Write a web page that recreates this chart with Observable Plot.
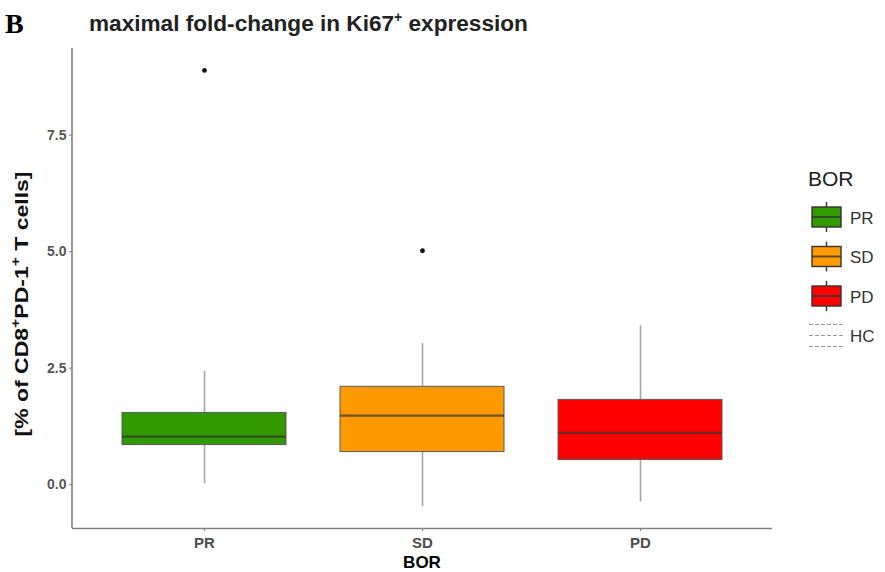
<!DOCTYPE html>
<html>
<head>
<meta charset="utf-8">
<script src="https://cdn.jsdelivr.net/npm/d3@7"></script>
<script src="https://cdn.jsdelivr.net/npm/@observablehq/plot@0.6"></script>
<style>
  html, body { margin: 0; padding: 0; background: #fff; }
  #wrap { position: relative; width: 885px; height: 572px; overflow: hidden; font-family: "Liberation Sans", Arial, sans-serif; }
  #wrap > svg { position: absolute; left: 0; top: 0; }
  #overlay { position: absolute; left: 0; top: 0; pointer-events: none; }
</style>
</head>
<body>
<div id="wrap"></div>
<script>
// ---- data ----
const categories   = ["PR", "SD", "PD"];
const boxColors    = ["#339900", "#ff9900", "#ff0000"];
const whiskerLow   = [0.02, -0.47, -0.37];
const lowerQuart   = [0.85, 0.70, 0.53];
const medians      = [1.03, 1.48, 1.11];
const upperQuart   = [1.54, 2.10, 1.82];
const whiskerHigh  = [2.43, 3.03, 3.41];
const outlierCats  = ["PR", "SD"];
const outlierVals  = [8.89, 5.02];
const yTicks       = [0, 2.5, 5, 7.5];
const yDomain      = [-0.94, 9.36];
const legendLabels = ["PR", "SD", "PD", "HC"];

const boxes = categories.map((c, i) => ({
  cat: c, lo: whiskerLow[i], q1: lowerQuart[i], med: medians[i], q3: upperQuart[i], hi: whiskerHigh[i]
}));
const outliers = outlierCats.map((c, i) => ({cat: c, v: outlierVals[i]}));

const W = 885, H = 572;
const mL = 72, mR = 113, mT = 48, mB = 44;
const font = "Liberation Sans, Arial, sans-serif";

const leftLine = (index, scales, values, dims) => {
  const l = document.createElementNS("http://www.w3.org/2000/svg", "line");
  l.setAttribute("x1", dims.marginLeft);
  l.setAttribute("x2", dims.marginLeft);
  l.setAttribute("y1", dims.marginTop);
  l.setAttribute("y2", dims.height - dims.marginBottom);
  l.setAttribute("stroke", "#808080");
  l.setAttribute("stroke-width", 1.6);
  return l;
};

const chart = Plot.plot({
  width: W, height: H,
  marginLeft: mL, marginRight: mR, marginTop: mT, marginBottom: mB,
  style: {fontFamily: font, background: "transparent"},
  x: {domain: categories, paddingInner: 0.25, paddingOuter: 0.225, label: null},
  y: {domain: yDomain, label: null},
  color: {domain: categories, range: boxColors},
  marks: [
    Plot.ruleX(boxes, {x: "cat", y1: "q3", y2: "hi", stroke: "#a6a6a6", strokeWidth: 1.6}),
    Plot.ruleX(boxes, {x: "cat", y1: "lo", y2: "q1", stroke: "#a6a6a6", strokeWidth: 1.6}),
    Plot.barY(boxes, {x: "cat", y1: "q1", y2: "q3", fill: "cat", stroke: "#5a5a5a", strokeWidth: 1}),
    Plot.tickY(boxes, {x: "cat", y: "med", stroke: "#333333", strokeOpacity: 0.7, strokeWidth: 2.2}),
    Plot.dot(outliers, {x: "cat", y: "v", r: 2.4, fill: "#111", stroke: "none"}),
    Plot.ruleY([yDomain[0]], {stroke: "#808080", strokeWidth: 1.6}),
    leftLine,
    Plot.axisY({ticks: yTicks, tickFormat: d => d.toFixed(1), tickSize: 3, tickPadding: 3,
      label: null, stroke: "#808080", fill: "#555", fontSize: 14, fontWeight: "bold"}),
    Plot.axisX({tickSize: 3, tickPadding: 6, label: null, stroke: "#808080", fill: "#4d4d4d",
      fontSize: 15, fontWeight: "bold"})
  ]
});
document.getElementById("wrap").appendChild(chart);

// ---- overlay: titles and legend ----
const ov = d3.select("#wrap").append("svg").attr("id", "overlay").attr("width", W).attr("height", H)
  .style("font-family", font);

ov.append("text").attr("x", 5).attr("y", 33).attr("font-family", "Liberation Serif, Times New Roman, serif")
  .attr("font-weight", "bold").attr("font-size", 28).attr("fill", "#000").text("B");

const t = ov.append("text").attr("x", 89).attr("y", 31).attr("font-weight", "bold").attr("font-size", 22.6).attr("fill", "#222");
t.append("tspan").text("maximal fold-change  in Ki67");
t.append("tspan").attr("font-size", 14).attr("dy", -9).text("+");
t.append("tspan").attr("dy", 9).text(" expression");

const yt = ov.append("text").attr("transform", "translate(28,304) rotate(-90)").attr("text-anchor", "middle")
  .attr("font-weight", "bold").attr("font-size", 19).attr("fill", "#111")
  .attr("textLength", 265).attr("lengthAdjust", "spacingAndGlyphs");
yt.append("tspan").text("[% of CD8");
yt.append("tspan").attr("font-size", 13).attr("dy", -8).text("+");
yt.append("tspan").attr("dy", 8).text("PD-1");
yt.append("tspan").attr("font-size", 13).attr("dy", -8).text("+");
yt.append("tspan").attr("dy", 8).text(" T cells]");

ov.append("text").attr("x", 422).attr("y", 568).attr("text-anchor", "middle").attr("font-weight", "bold")
  .attr("font-size", 17).attr("fill", "#000").text("BOR");

// legend
ov.append("text").attr("x", 808).attr("y", 186).attr("font-size", 21).attr("fill", "#222").text("BOR");
legendLabels.forEach((lab, i) => {
  const cy = 217 + i * 39.5;
  const g = ov.append("g");
  if (i < 3) {
    g.append("line").attr("x1", 826.5).attr("x2", 826.5).attr("y1", cy - 15).attr("y2", cy + 15)
      .attr("stroke", "#333").attr("stroke-width", 1.4);
    g.append("rect").attr("x", 812).attr("y", cy - 10).attr("width", 29).attr("height", 20)
      .attr("fill", boxColors[i]).attr("stroke", "#333").attr("stroke-width", 1.4);
    g.append("line").attr("x1", 812).attr("x2", 841).attr("y1", cy).attr("y2", cy)
      .attr("stroke", "#333").attr("stroke-opacity", 0.75).attr("stroke-width", 2);
  } else {
    [-11, 0, 11].forEach(dy => {
      g.append("line").attr("x1", 809).attr("x2", 843).attr("y1", cy + dy).attr("y2", cy + dy)
        .attr("stroke", "#999").attr("stroke-width", 1).attr("stroke-dasharray", "4,2");
    });
  }
  g.append("text").attr("x", 850).attr("y", cy + 6.5).attr("font-size", 17).attr("fill", "#333").text(lab);
});
</script>
</body>
</html>
